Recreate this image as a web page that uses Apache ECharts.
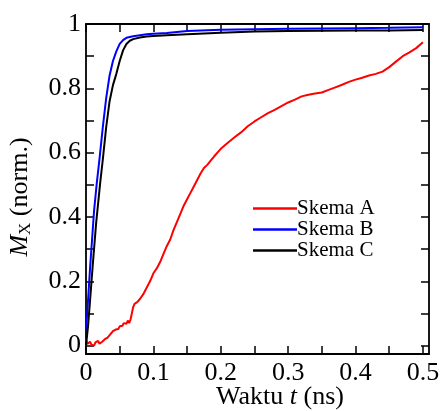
<!DOCTYPE html>
<html>
<head>
<meta charset="utf-8">
<script src="https://cdn.jsdelivr.net/npm/echarts@6/dist/echarts.min.js"></script>
<style>
  html, body { margin: 0; padding: 0; background: #fff; }
  #chart { width: 441px; height: 411px; }
</style>
</head>
<body>
<div id="chart"></div>
<script>
// time in ns, normalized magnetization
var skemaA = [
  [0, 0.02], [0.002, 0.005], [0.004, 0.0], [0.006, 0.012], [0.008, 0.003], [0.010, 0.008],
  [0.012, 0.0], [0.014, 0.01], [0.016, 0.004], [0.018, 0.015], [0.020, 0.006], [0.022, 0.003],
  [0.024, 0.012], [0.026, 0.008], [0.028, 0.02], [0.030, 0.015], [0.032, 0.025], [0.034, 0.022],
  [0.036, 0.035], [0.038, 0.03], [0.040, 0.045], [0.042, 0.04], [0.044, 0.05], [0.046, 0.055],
  [0.048, 0.052], [0.050, 0.06], [0.052, 0.065], [0.054, 0.062], [0.056, 0.07], [0.058, 0.075],
  [0.060, 0.068], [0.062, 0.078], [0.064, 0.07], [0.066, 0.08], [0.068, 0.1], [0.070, 0.12],
  [0.072, 0.13], [0.074, 0.125], [0.076, 0.135], [0.080, 0.145], [0.085, 0.16], [0.090, 0.18],
  [0.095, 0.2], [0.100, 0.225], [0.105, 0.24], [0.110, 0.26], [0.115, 0.285], [0.120, 0.31],
  [0.125, 0.33], [0.130, 0.36], [0.135, 0.385], [0.140, 0.41], [0.145, 0.435], [0.150, 0.455],
  [0.155, 0.475], [0.160, 0.495], [0.165, 0.515], [0.170, 0.535], [0.175, 0.552], [0.180, 0.562],
  [0.185, 0.575], [0.190, 0.588], [0.195, 0.6], [0.200, 0.612], [0.21, 0.63], [0.22, 0.647],
  [0.23, 0.663], [0.24, 0.682], [0.25, 0.697], [0.26, 0.71], [0.27, 0.723], [0.28, 0.733],
  [0.29, 0.745], [0.30, 0.756], [0.31, 0.765], [0.32, 0.775], [0.33, 0.78], [0.34, 0.784],
  [0.35, 0.787], [0.36, 0.795], [0.37, 0.803], [0.38, 0.811], [0.39, 0.82], [0.40, 0.827],
  [0.41, 0.833], [0.42, 0.84], [0.43, 0.845], [0.44, 0.852], [0.45, 0.866], [0.46, 0.883],
  [0.47, 0.9], [0.48, 0.912], [0.49, 0.925], [0.50, 0.943]
];
var skemaB = [
  [0, 0.05], [0.003, 0.14], [0.006, 0.24], [0.009, 0.33], [0.012, 0.42], [0.016, 0.505],
  [0.02, 0.58], [0.025, 0.68], [0.03, 0.77], [0.035, 0.84], [0.04, 0.885], [0.045, 0.915],
  [0.05, 0.938], [0.055, 0.95], [0.06, 0.957], [0.07, 0.962], [0.08, 0.965], [0.09, 0.968],
  [0.1, 0.97], [0.12, 0.972], [0.15, 0.978], [0.2, 0.982], [0.25, 0.984], [0.3, 0.985],
  [0.35, 0.986], [0.4, 0.987], [0.45, 0.988], [0.5, 0.99]
];
var skemaC = [
  [0, 0.0], [0.003, 0.06], [0.006, 0.14], [0.01, 0.25], [0.015, 0.38], [0.021, 0.505],
  [0.025, 0.58], [0.03, 0.68], [0.035, 0.76], [0.04, 0.81], [0.045, 0.845], [0.05, 0.885],
  [0.055, 0.918], [0.06, 0.938], [0.065, 0.948], [0.07, 0.953], [0.08, 0.958], [0.09, 0.961],
  [0.1, 0.963], [0.12, 0.965], [0.15, 0.968], [0.2, 0.973], [0.25, 0.977], [0.3, 0.978],
  [0.35, 0.979], [0.4, 0.98], [0.45, 0.98], [0.5, 0.981]
];
var seriesNames = ['Skema A', 'Skema B', 'Skema C'];
var seriesColors = ['#ff0000', '#0000ff', '#000000'];
var xTicks = [0, 0.05, 0.1, 0.15, 0.2, 0.25, 0.3, 0.35, 0.4, 0.45, 0.5];
var xLabels = [0, 0.1, 0.2, 0.3, 0.4, 0.5];
var yTicks = [0, 0.1, 0.2, 0.3, 0.4, 0.5, 0.6, 0.7, 0.8, 0.9, 1];
var yLabels = [0, 0.2, 0.4, 0.6, 0.8, 1];

var font = "'Liberation Serif', 'Times New Roman', serif";
var chart = echarts.init(document.getElementById('chart'));

function xAxisCfg(pos, labels) {
  return {
    type: 'value', position: pos, min: 0, max: 0.509,
    splitLine: { show: false },
    axisLine: { show: true, onZero: false, lineStyle: { color: '#000', width: 1.8 } },
    axisTick: { show: true, inside: true, length: 8, customValues: xTicks, lineStyle: { color: '#000', width: 1.5 } },
    axisLabel: { show: labels, customValues: xLabels, margin: 6, fontFamily: font, fontSize: 26, color: '#000' }
  };
}
function yAxisCfg(pos, labels) {
  return {
    type: 'value', position: pos, min: -0.026, max: 1,
    splitLine: { show: false },
    axisLine: { show: true, onZero: false, lineStyle: { color: '#000', width: 1.8 } },
    axisTick: { show: true, inside: true, length: 8, customValues: yTicks, lineStyle: { color: '#000', width: 1.5 } },
    axisLabel: { show: labels, customValues: yLabels, margin: 5, fontFamily: font, fontSize: 26, color: '#000' }
  };
}

var xBottom = xAxisCfg('bottom', true);
xBottom.name = 'Waktu {i|t} (ns)';
xBottom.nameLocation = 'middle';
xBottom.nameGap = 30;
xBottom.nameMoveOverlap = false;
xBottom.nameTextStyle = {
  fontFamily: font, fontSize: 26, color: '#000', padding: [0, 0, 0, 45],
  rich: { i: { fontFamily: font, fontSize: 26, fontStyle: 'italic', color: '#000' } }
};
var yLeft = yAxisCfg('left', true);
yLeft.name = '{i|M}{s|X} (norm.)';
yLeft.nameLocation = 'middle';
yLeft.nameRotate = 90;
yLeft.nameGap = 52;
yLeft.nameMoveOverlap = false;
yLeft.nameTextStyle = {
  fontFamily: font, fontSize: 26, color: '#000', padding: [0, 16, 0, 0],
  rich: {
    i: { fontFamily: font, fontSize: 26, fontStyle: 'italic', color: '#000' },
    s: { fontFamily: font, fontSize: 17, color: '#000', verticalAlign: 'bottom', padding: [10, 0, 0, 0] }
  }
};

var series = [skemaA, skemaB, skemaC].map(function (d, i) {
  return {
    name: seriesNames[i], type: 'line', data: d,
    xAxisIndex: 0, yAxisIndex: 0,
    showSymbol: false, symbol: 'none',
    lineStyle: { color: seriesColors[i], width: 2 },
    itemStyle: { color: seriesColors[i] },
    animation: false
  };
});

chart.setOption({
  animation: false,
  grid: { left: 86, right: 12, top: 24, bottom: 57, outerBoundsMode: 'none' },
  legend: {
    orient: 'vertical', left: 248, top: 193,
    icon: 'rect', itemWidth: 44, itemHeight: 2.5, itemGap: 0,
    textStyle: { fontFamily: font, fontSize: 21, color: '#000', padding: [0, 0, 0, -5] },
    data: seriesNames
  },
  xAxis: [xBottom, xAxisCfg('top', false)],
  yAxis: [yLeft, yAxisCfg('right', false)],
  series: series
});
</script>
</body>
</html>
